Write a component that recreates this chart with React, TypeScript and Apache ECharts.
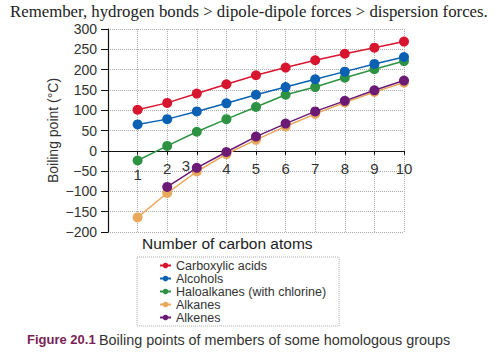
import React, { useEffect, useRef } from "react";
import * as echarts from "echarts";

const carbonAtoms = [1, 2, 3, 4, 5, 6, 7, 8, 9, 10];
const carboxylicAcids = [101, 118, 141, 164, 186, 205, 223, 239, 254, 269];
const alcohols = [65, 78, 97, 117, 138, 157, 176, 195, 214, 231];
const haloalkanes = [-24, 12, 47, 78, 108, 138, 157, 180, 201, 221];
const alkanes = [-164, -104, -51, -8, 27, 60, 91, 119, 145, 168];
const alkenes = [null, -89, -42, -3, 35, 67, 97, 123, 149, 173];

const seriesNames = [
  "Carboxylic acids",
  "Alcohols",
  "Haloalkanes (with chlorine)",
  "Alkanes",
  "Alkenes",
];
const seriesColors = ["#d8152e", "#0a61b3", "#2d9343", "#e9a95c", "#6b1a75"];

const titleText =
  "Remember, hydrogen bonds > dipole-dipole forces > dispersion forces.";
const xAxisName = "Number of carbon atoms";
const yAxisName = "Boiling point (°C)";
const figureLabel = "Figure 20.1";
const captionText = "Boiling points of members of some homologous groups";

const SANS = "'Liberation Sans', Arial, Helvetica, sans-serif";

const GRID_TOP = 29;
const GRID_BOTTOM = 123;
const Y_MIN = -200;
const Y_MAX = 300;

export default function App() {
  const ref = useRef<HTMLDivElement>(null);
  useEffect(() => {
    if (!ref.current) return;
    const chart = echarts.init(ref.current, null, { renderer: "svg" });
    const dataSets = [carboxylicAcids, alcohols, haloalkanes, alkanes, alkenes];
    const series = dataSets.map((vals, i) => ({
      name: seriesNames[i],
      type: "line",
      data: vals.map((v, j) => [carbonAtoms[j], v]),
      symbol: "circle",
      symbolSize: 10,
      showSymbol: true,
      connectNulls: false,
      z: [2, 4, 3, 5, 6][i],
      itemStyle: { color: seriesColors[i] },
      lineStyle: { color: seriesColors[i], width: 1.5 },
    }));
    const gridHeight = 355 - GRID_TOP - GRID_BOTTOM;
    const zeroFromBottom = (gridHeight * (0 - Y_MIN)) / (Y_MAX - Y_MIN);
    chart.setOption({
      animation: false,
      textStyle: { fontFamily: SANS },
      grid: { left: 108, right: 96, top: GRID_TOP, bottom: GRID_BOTTOM },
      xAxis: [
        {
          type: "value",
          min: 0,
          max: 10,
          interval: 1,
          position: "bottom",
          offset: -zeroFromBottom,
          axisLine: { onZero: false, lineStyle: { color: "#111", width: 1.2 } },
          axisTick: { show: true, length: 4, lineStyle: { color: "#111" } },
          splitLine: {
            show: true,
            lineStyle: { color: "#aaa", type: "dotted", width: 1 },
          },
          axisLabel: {
            margin: 4,
            color: "#333",
            fontSize: 15,
            fontFamily: SANS,
            formatter: (v: number) => {
              if (v === 0) return "";
              if (v === 1) return "{one|1}";
              if (v === 3) return "{three|3}";
              return "{n|" + v + "}";
            },
            rich: {
              n: { fontSize: 15, color: "#333", padding: [6, 0, 0, 0] },
              one: { fontSize: 15, color: "#333", padding: [12, 0, 0, 0] },
              three: { fontSize: 15, color: "#333", padding: [3, 22, 0, 0] },
            },
          },
        },
      ],
      yAxis: {
        type: "value",
        min: Y_MIN,
        max: Y_MAX,
        interval: 50,
        name: yAxisName,
        nameLocation: "middle",
        nameGap: 48,
        nameMoveOverlap: false,
        nameTextStyle: { fontSize: 14, color: "#333", fontFamily: SANS },
        axisLine: { show: true, onZero: false, lineStyle: { color: "#111", width: 1.2 } },
        axisTick: { show: true, length: 7, lineStyle: { color: "#111" } },
        axisLabel: {
          margin: 11,
          color: "#333",
          fontSize: 14,
          fontFamily: SANS,
          formatter: (v: number) => (v < 0 ? "\u2212" + Math.abs(v) : String(v)),
        },
        splitLine: {
          show: true,
          lineStyle: { color: "#aaa", type: "dotted", width: 1 },
        },
      },
      legend: {
        orient: "vertical",
        left: 137,
        top: 257,
        data: seriesNames,
        padding: [2, 13, 2, 22],
        itemGap: 0,
        itemWidth: 11,
        itemHeight: 7,
        borderColor: "#aaa",
        borderWidth: 1,
        borderType: "dotted",
        textStyle: { fontSize: 12.5, color: "#333", fontFamily: SANS },
      },
      graphic: [
        {
          type: "text",
          left: 10,
          top: 3,
          style: {
            text: titleText,
            font: "16.8px 'Liberation Serif', 'Times New Roman', serif",
            fill: "#222",
          },
        },
        {
          type: "text",
          left: 142,
          top: 235,
          style: {
            text: xAxisName,
            font: "15.5px " + SANS,
            fill: "#222",
          },
        },
        {
          type: "text",
          left: 27,
          top: 333,
          style: {
            text: figureLabel,
            font: "bold 13px " + SANS,
            fill: "#7a1f55",
          },
        },
        {
          type: "text",
          left: 99,
          top: 333,
          style: {
            text: captionText,
            font: "14.4px " + SANS,
            fill: "#333",
          },
        },
      ],
      series,
    });
    return () => chart.dispose();
  }, []);
  return (
    <div
      ref={ref}
      style={{ position: "absolute", left: 0, top: 0, width: 500, height: 355 }}
    />
  );
}
